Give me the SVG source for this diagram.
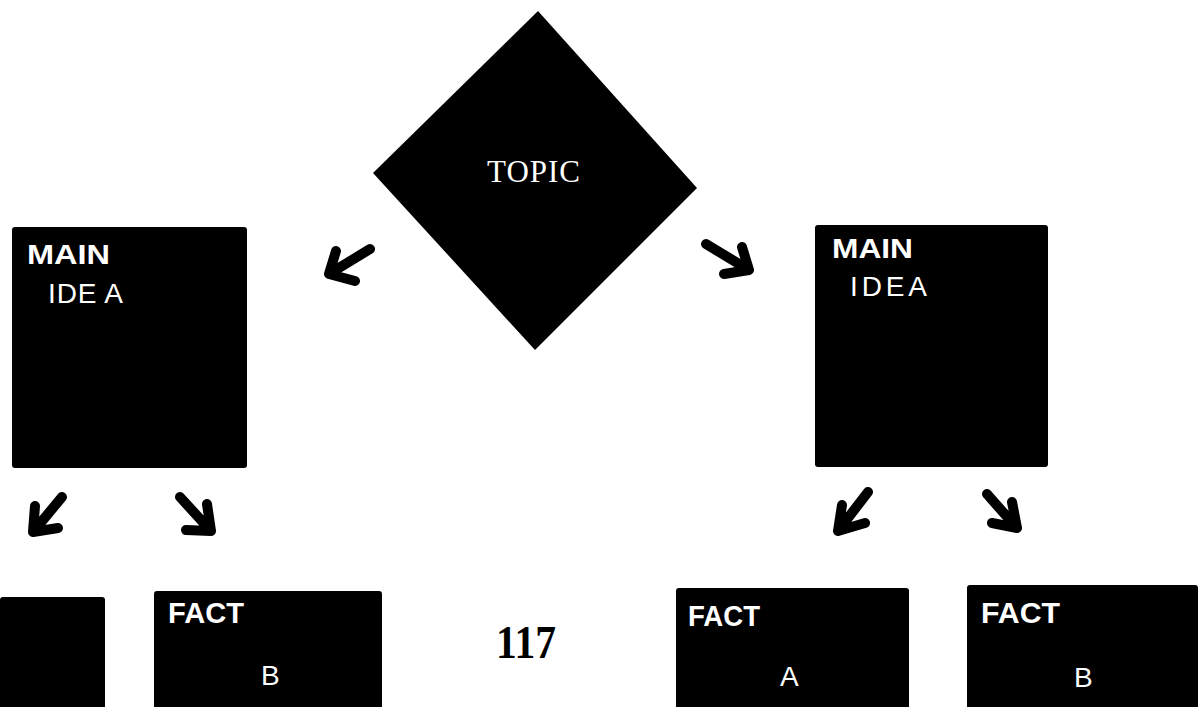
<svg xmlns="http://www.w3.org/2000/svg" width="1201" height="707" viewBox="0 0 1201 707">
<style>
.box{fill:#000;}
.lbl{fill:#fff;font-family:"Liberation Sans",Arial,sans-serif;}
.bold{font-weight:bold;font-size:28px;}
.reg{font-size:28px;}
.fact{font-size:29px;font-weight:bold;}
.letter{font-size:28px;}
.topic{fill:#fff;font-family:"Liberation Serif","Times New Roman",serif;font-size:31px;}
.arr{fill:none;stroke:#000;stroke-width:10;stroke-linecap:round;stroke-linejoin:round;}
</style>
<rect width="1201" height="707" fill="#fff"/>
<g id="topic">
<polygon class="box" points="538,11 697,188 535,350 373,173"/>
<text class="topic" x="487" y="182" textLength="93" lengthAdjust="spacing">TOPIC</text>
</g>
<g id="main-idea-left">
<rect class="box" x="12" y="227" width="235" height="241" rx="3"/>
<text class="lbl bold" x="27" y="264" textLength="83" lengthAdjust="spacingAndGlyphs">MAIN</text>
<text class="lbl reg" x="48" y="303" textLength="75" lengthAdjust="spacing">IDE A</text>
</g>
<g id="main-idea-right">
<rect class="box" x="815" y="225" width="233" height="242" rx="3"/>
<text class="lbl bold" x="832" y="258" textLength="81" lengthAdjust="spacingAndGlyphs">MAIN</text>
<text class="lbl reg" x="850" y="296" textLength="77" lengthAdjust="spacing">IDEA</text>
</g>
<g id="fact-left-a">
<rect class="box" x="0" y="597" width="105" height="115" rx="3"/>
</g>
<g id="fact-left-b">
<rect class="box" x="154" y="591" width="228" height="120" rx="3"/>
<text class="lbl fact" x="168" y="623" textLength="76" lengthAdjust="spacingAndGlyphs">FACT</text>
<text class="lbl letter" x="261" y="685">B</text>
</g>
<g id="fact-right-a">
<rect class="box" x="676" y="588" width="233" height="124" rx="3"/>
<text class="lbl fact" x="688" y="626" textLength="72" lengthAdjust="spacingAndGlyphs">FACT</text>
<text class="lbl letter" x="780" y="686">A</text>
</g>
<g id="fact-right-b">
<rect class="box" x="967" y="585" width="231" height="127" rx="3"/>
<text class="lbl fact" x="981" y="623" textLength="79" lengthAdjust="spacingAndGlyphs">FACT</text>
<text class="lbl letter" x="1074" y="687">B</text>
</g>
<g id="connectors">
<path class="arr" d="M370,249 L329,274 M336,251 L329,274 L355,281"/>
<path class="arr" d="M706,244 L749,270 M742,247 L749,270 L724,274"/>
<path class="arr" d="M62,497 L33,532 M35,506 L33,532 L58,528"/>
<path class="arr" d="M180,497 L211,531 M207,504 L211,531 L186,530"/>
<path class="arr" d="M868,492 L838,531 M842,505 L838,531 L865,523"/>
<path class="arr" d="M987,494 L1017,528 M1012,502 L1017,528 L992,523"/>
</g>
<text x="496" y="658" font-family="'Liberation Serif','Times New Roman',serif" font-size="46" font-weight="bold" textLength="60" lengthAdjust="spacingAndGlyphs" fill="#000">117</text>
</svg>
